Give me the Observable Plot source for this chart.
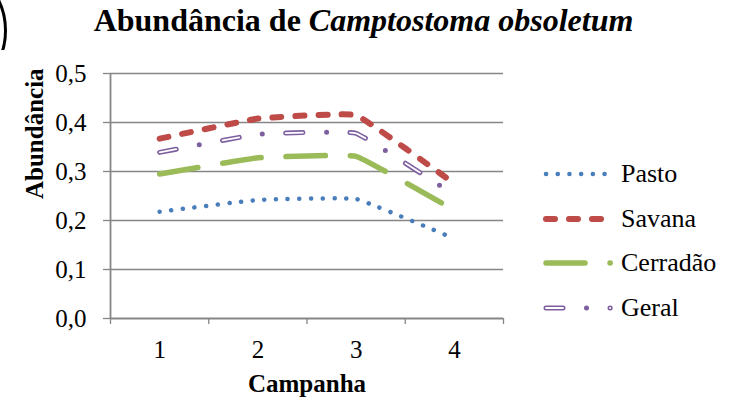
<!DOCTYPE html>
<html>
<head>
<meta charset="utf-8">
<script src="https://cdn.jsdelivr.net/npm/d3@7"></script>
<script src="https://cdn.jsdelivr.net/npm/@observablehq/plot@0.6"></script>
<style>
  html, body { margin: 0; padding: 0; background: #fff; }
  #wrap { position: relative; width: 734px; height: 406px; overflow: hidden; font-family: "Liberation Serif", "Times New Roman", serif; }
  #title { position: absolute; left: 0; top: 2px; width: 727px; text-align: center; font-size: 32px; line-height: 37px; font-weight: bold; color: #000; white-space: nowrap; }
  #circle { position: absolute; box-sizing: border-box; left: -132px; top: -39px; width: 139px; height: 139px; border: 3px solid #000; border-radius: 50%; }
  #chart { position: absolute; left: 0; top: 50px; }
  #legend { position: absolute; left: 543px; top: 152px; font-size: 26px; }
  .row { display: flex; align-items: center; height: 44.5px; }
  .row svg { display: block; margin-right: 4px; }
</style>
</head>
<body>
<div id="wrap">
  <div id="circle"></div>
  <div id="title">Abundância de <i>Camptostoma obsoletum</i></div>
  <div id="chart"></div>
  <div id="legend"></div>
</div>
<script>
const campanhas = [1, 2, 3, 4];
const pasto    = [0.218, 0.242, 0.244, 0.163];
const savana   = [0.367, 0.408, 0.415, 0.275];
const cerradao = [0.295, 0.328, 0.331, 0.221];
const geral    = [0.339, 0.376, 0.378, 0.252];
const yTicks = [0, 0.1, 0.2, 0.3, 0.4, 0.5];
const seriesNames = ["Pasto", "Savana", "Cerradão", "Geral"];

const styles = {
  "Pasto":    {stroke: "#4a7ebb", strokeWidth: 4.5, strokeDasharray: "0.1 11.6", strokeLinecap: "round"},
  "Savana":   {stroke: "#be4b48", strokeWidth: 6, strokeDasharray: "9 14", strokeLinecap: "round"},
  "Cerradão": {stroke: "#9bbb59", strokeWidth: 5.5, strokeDasharray: "39 25", strokeLinecap: "round"},
  "Geral":    {stroke: "#7d5fa0", strokeWidth: 5, strokeDasharray: "17 23.5 0 23.5", strokeLinecap: "round"}
};
const seriesValues = [pasto, savana, cerradao, geral];
const data = seriesNames.map((name, i) => campanhas.map((c, j) => ({serie: name, campanha: c, valor: seriesValues[i][j]})));

const comma = d => d3.format(".1f")(d).replace(".", ",");
const boundaries = [0.5, 1.5, 2.5, 3.5, 4.5];
const grid = "#868686";
const font = "Liberation Serif, serif";
const curve = {curve: "cardinal", tension: 0.75};

const marks = [
  Plot.gridY(yTicks.slice(1), {stroke: grid, strokeOpacity: 1, strokeWidth: 1.3}),
  Plot.axisY(yTicks, {tickFormat: comma, tickSize: 7, tickPadding: 17, stroke: grid, strokeWidth: 1.3, fontSize: 25, fontFamily: font, label: null}),
  Plot.ruleX([0.5], {stroke: grid, strokeWidth: 1.8}),
  Plot.ruleY([0], {stroke: grid, strokeWidth: 1.8}),
  Plot.axisX(boundaries, {tickFormat: () => "", tickSize: 6, stroke: grid, strokeWidth: 1.3, label: null}),
  Plot.axisX(campanhas, {tickSize: 0, tickPadding: 22, fontSize: 25, fontFamily: font, label: null}),
  Plot.text(["Abundância"], {frameAnchor: "left", dx: -76, dy: 3, rotate: -90, fontSize: 25, fontWeight: "bold", fontFamily: font}),
  Plot.text(["Campanha"], {frameAnchor: "bottom", dy: 73, fontSize: 25, fontWeight: "bold", fontFamily: font}),
];
data.forEach((d, i) => {
  const s = styles[seriesNames[i]];
  marks.push(Plot.line(d, {x: "campanha", y: "valor", ...curve, ...s}));
  if (seriesNames[i] === "Geral") {
    marks.push(Plot.line(d, {x: "campanha", y: "valor", ...curve, stroke: "#fff", strokeWidth: 1.8, strokeDasharray: "17 47", strokeLinecap: "round"}));
  }
});

const chart = Plot.plot({
  width: 734,
  height: 356,
  marginLeft: 110,
  marginRight: 231,
  marginTop: 23,
  marginBottom: 88,
  style: {fontFamily: font, fontSize: "25px", color: "#000", background: "#fff", overflow: "visible"},
  x: {type: "linear", domain: [0.5, 4.5]},
  y: {domain: [0, 0.5]},
  marks
});
document.getElementById("chart").appendChild(chart);

// legend
const legend = d3.select("#legend");
seriesNames.forEach(name => {
  const s = styles[name];
  const row = legend.append("div").attr("class", "row");
  const svg = row.append("svg").attr("width", 74).attr("height", 12);
  svg.append("line").attr("x1", 3).attr("x2", 67.2).attr("y1", 6).attr("y2", 6)
    .attr("stroke", s.stroke).attr("stroke-width", s.strokeWidth)
    .attr("stroke-dasharray", s.strokeDasharray).attr("stroke-linecap", s.strokeLinecap);
  if (name === "Geral") {
    svg.append("line").attr("x1", 3).attr("x2", 67.2).attr("y1", 6).attr("y2", 6)
      .attr("stroke", "#fff").attr("stroke-width", 1.8)
      .attr("stroke-dasharray", "17 47").attr("stroke-linecap", "round");
  }
  row.append("span").text(name);
});
</script>
</body>
</html>
